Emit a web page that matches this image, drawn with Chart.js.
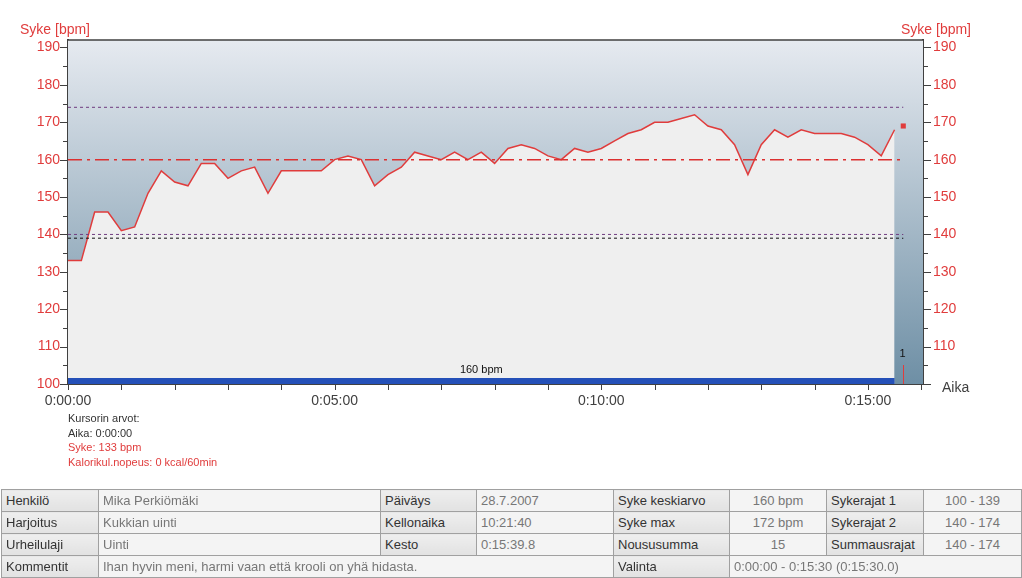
<!DOCTYPE html>
<html>
<head>
<meta charset="utf-8">
<title>Syke</title>
<script src="https://cdn.jsdelivr.net/npm/chart.js@4/dist/chart.umd.min.js"></script>
<style>
    body { margin: 0; background: #fff; font-family: 'Liberation Sans', Arial, sans-serif; }
    #wrap { position: relative; width: 1022px; height: 578px; overflow: hidden; }
    #hr-chart { position: absolute; left: 0; top: 0; }
    .cursor { position: absolute; left: 68px; top: 411px; font-size: 11px; line-height: 14.5px; color: #333; }
    .cursor .red { color: #e03c3c; }
    table.info { position: absolute; left: 1px; top: 489px; width: 1020px; border-collapse: collapse; table-layout: fixed; font-size: 13px; }
    table.info tr { height: 22px; }
    table.info td { border: 1px solid #a0a0a0; padding: 0 4px; white-space: nowrap; overflow: hidden; line-height: 14px; }
    td.lbl { background: linear-gradient( #eeeeee, #e2e2e2 ); color: #333; }
    td.val { background: #f4f4f4; color: #777; }
    td.c { text-align: center; }
</style>
</head>
<body>
<div id="wrap">
    <canvas id="hr-chart" width="1022" height="488"></canvas>
    <div class="cursor">
        <div>Kursorin arvot:</div>
        <div>Aika: 0:00:00</div>
        <div class="red">Syke: 133 bpm</div>
        <div class="red">Kalorikul.nopeus: 0 kcal/60min</div>
    </div>
    <table class="info">
        <colgroup>
            <col style="width:97px"><col style="width:282px"><col style="width:96px"><col style="width:137px">
            <col style="width:116px"><col style="width:97px"><col style="width:97px"><col style="width:98px">
        </colgroup>
        <tr><td class="lbl">Henkilö</td><td class="val">Mika Perkiömäki</td><td class="lbl">Päiväys</td><td class="val">28.7.2007</td>
            <td class="lbl">Syke keskiarvo</td><td class="val c">160 bpm</td><td class="lbl">Sykerajat 1</td><td class="val c">100 - 139</td></tr>
        <tr><td class="lbl">Harjoitus</td><td class="val">Kukkian uinti</td><td class="lbl">Kellonaika</td><td class="val">10:21:40</td>
            <td class="lbl">Syke max</td><td class="val c">172 bpm</td><td class="lbl">Sykerajat 2</td><td class="val c">140 - 174</td></tr>
        <tr><td class="lbl">Urheilulaji</td><td class="val">Uinti</td><td class="lbl">Kesto</td><td class="val">0:15:39.8</td>
            <td class="lbl">Noususumma</td><td class="val c">15</td><td class="lbl">Summausrajat</td><td class="val c">140 - 174</td></tr>
        <tr><td class="lbl">Kommentit</td><td class="val" colspan="3">Ihan hyvin meni, harmi vaan että krooli on yhä hidasta.</td>
            <td class="lbl">Valinta</td><td class="val" colspan="3">0:00:00 - 0:15:30 (0:15:30.0)</td></tr>
    </table>
</div>
<script>
// syke 15 s välein, aika sekunteina
const sampleTimes = [
    0, 15, 30, 45, 60, 75, 90, 105, 120, 135, 150, 165, 180, 195, 210, 225,
    240, 255, 270, 285, 300, 315, 330, 345, 360, 375, 390, 405, 420, 435, 450, 465,
    480, 495, 510, 525, 540, 555, 570, 585, 600, 615, 630, 645, 660, 675, 690, 705,
    720, 735, 750, 765, 780, 795, 810, 825, 840, 855, 870, 885, 900, 915, 930
];
const heartRates = [
    133, 133, 146, 146, 141, 142, 151, 157, 154, 153, 159, 159, 155, 157, 158, 151,
    157, 157, 157, 157, 160, 161, 160, 153, 156, 158, 162, 161, 160, 162, 160, 162,
    159, 163, 164, 163, 161, 160, 163, 162, 163, 165, 167, 168, 170, 170, 171, 172,
    169, 168, 164, 156, 164, 168, 166, 168, 167, 167, 167, 166, 164, 161, 168
];

const hrTickValues    = [ 100, 105, 110, 115, 120, 125, 130, 135, 140, 145, 150, 155, 160, 165, 170, 175, 180, 185, 190 ];
const hrLabelValues   = [ 100, 110, 120, 130, 140, 150, 160, 170, 180, 190 ];
const hrLabelsRight   = [ 110, 120, 130, 140, 150, 160, 170, 180, 190 ];
const timeTickValues  = [ 0, 60, 120, 180, 240, 300, 360, 420, 480, 540, 600, 660, 720, 780, 840, 900, 960 ];
const timeLabelTicks  = [ 0, 300, 600, 900 ];
const timeLabels      = [ '0:00:00', '0:05:00', '0:10:00', '0:15:00' ];

const hrAverage      = 160;
const zone1Upper     = 139;
const zone2Limits    = [ 140, 174 ];
const exerciseLength = 939.8;
const lapTimes       = [ 939.8 ];
const lapLabels      = [ '1' ];
const endMarkerHr    = 169;
const averageLabel   = '160 bpm';

let hrChart = {
    variables : {
        lineRed   : '#e03c3c',
        axisColor : '#404040',
        purple    : '#703c80'
    },
    functions : {
        limitLine : ( value, color, dash ) => {
            return {
                data: [ { x: 0, y: value }, { x: exerciseLength, y: value } ],
                borderColor: color,
                borderWidth: 1,
                borderDash: dash,
                pointRadius: 0,
                fill: false,
                order: 2
            };
        },
        fixWidth : ( width ) => ( axis ) => { axis.width = width; }
    }
};

let decorPlugin = {
    id : 'hrDecor',
    beforeDatasetsDraw : ( chart ) => {
        let ctx  = chart.ctx;
        let area = chart.chartArea;
        let grad = ctx.createLinearGradient( 0, area.top, 0, area.bottom );
        grad.addColorStop( 0, '#e6eaf0' );
        grad.addColorStop( 1, '#6e8fa5' );
        ctx.save();
        ctx.fillStyle = grad;
        ctx.fillRect( area.left, area.top, area.right - area.left, area.bottom - area.top );
        ctx.restore();
    },
    afterDatasetsDraw : ( chart ) => {
        let ctx  = chart.ctx;
        let area = chart.chartArea;
        let xs   = chart.scales.x;
        ctx.save();
        // keskisykepalkki
        let x0 = xs.getPixelForValue( sampleTimes[ 0 ] );
        let x1 = xs.getPixelForValue( sampleTimes[ sampleTimes.length - 1 ] );
        ctx.fillStyle = '#2450b8';
        ctx.fillRect( x0, area.bottom - 6, x1 - x0, 6 );
        ctx.fillStyle = '#111';
        ctx.font = '11px "Liberation Sans", Arial, sans-serif';
        ctx.textAlign = 'center';
        ctx.textBaseline = 'middle';
        ctx.fillText( averageLabel, ( x0 + x1 ) / 2, area.bottom - 14 );
        // kierrokset
        lapTimes.forEach( ( t, i ) => {
            let lx = Math.round( xs.getPixelForValue( t ) ) + 0.5;
            ctx.strokeStyle = hrChart.variables.lineRed;
            ctx.lineWidth = 1;
            ctx.beginPath();
            ctx.moveTo( lx, area.bottom - 19 );
            ctx.lineTo( lx, area.bottom );
            ctx.stroke();
            ctx.fillStyle = '#111';
            ctx.fillText( lapLabels[ i ], lx - 1, area.bottom - 30 );
        } );
        ctx.restore();
    },
    afterDraw : ( chart ) => {
        let ctx  = chart.ctx;
        let area = chart.chartArea;
        ctx.save();
        ctx.strokeStyle = hrChart.variables.axisColor;
        ctx.lineWidth = 1.5;
        ctx.beginPath();
        ctx.moveTo( area.left, area.top );
        ctx.lineTo( area.right, area.top );
        ctx.stroke();

        ctx.lineWidth = 1;
        chart.scales.y.ticks.forEach( ( tick ) => {
            let y   = Math.round( chart.scales.y.getPixelForValue( tick.value ) ) + 0.5;
            let len = hrLabelValues.includes( tick.value ) ? 7 : 4;
            ctx.beginPath();
            ctx.moveTo( area.left - 1 - len, y );
            ctx.lineTo( area.left, y );
            ctx.moveTo( area.right, y );
            ctx.lineTo( area.right + 1 + len, y );
            ctx.stroke();
        } );
        chart.scales.x.ticks.forEach( ( tick ) => {
            let x = Math.round( chart.scales.x.getPixelForValue( tick.value ) ) + 0.5;
            ctx.beginPath();
            ctx.moveTo( x, area.bottom );
            ctx.lineTo( x, area.bottom + 6 );
            ctx.stroke();
        } );

        ctx.font = '14px "Liberation Sans", Arial, sans-serif';
        ctx.textBaseline = 'middle';
        ctx.textAlign = 'center';
        ctx.fillStyle = hrChart.variables.lineRed;
        ctx.fillText( 'Syke [bpm]', area.left - 13, area.top - 10 );
        ctx.fillText( 'Syke [bpm]', area.right + 13, area.top - 10 );
        ctx.textAlign = 'left';
        ctx.fillStyle = hrChart.variables.axisColor;
        ctx.fillText( 'Aika', area.right + 19, area.bottom + 4 );
        ctx.restore();
    }
};

Chart.defaults.font.family = '"Liberation Sans", Arial, sans-serif';
Chart.defaults.font.size   = 14;

let hrPoints = sampleTimes.map( ( t, i ) => ( { x: t, y: heartRates[ i ] } ) );

let ctx = document.getElementById( 'hr-chart' ).getContext( '2d' );
let chart = new Chart( ctx, {
    type: 'line',
    data: {
        datasets: [
            {
                label: 'Syke',
                data: hrPoints,
                borderColor: hrChart.variables.lineRed,
                borderWidth: 1.5,
                backgroundColor: '#efefef',
                fill: 'start',
                pointRadius: 0,
                tension: 0,
                order: 5
            },
            hrChart.functions.limitLine( zone2Limits[ 1 ], hrChart.variables.purple, [ 3, 3 ] ),
            hrChart.functions.limitLine( zone2Limits[ 0 ], hrChart.variables.purple, [ 3, 3 ] ),
            hrChart.functions.limitLine( zone1Upper, '#111', [ 3, 3 ] ),
            Object.assign( hrChart.functions.limitLine( hrAverage, '#dc3030', [ 14, 5, 3, 5 ] ), { borderWidth: 1.5 } ),
            {
                label: 'loppu',
                data: [ { x: exerciseLength, y: endMarkerHr } ],
                showLine: false,
                pointStyle: 'rect',
                pointRadius: 3.6,
                pointBackgroundColor: hrChart.variables.lineRed,
                pointBorderWidth: 0,
                order: 0
            }
        ]
    },
    options: {
        responsive: false,
        animation: false,
        layout: { padding: { top: 40, left: 0, right: 0, bottom: 0 } },
        plugins: { legend: { display: false }, tooltip: { enabled: false } },
        scales: {
            x: {
                type: 'linear',
                min: 0,
                max: 962,
                afterFit: ( axis ) => { axis.height = 104; },
                afterBuildTicks: ( axis ) => { axis.ticks = timeTickValues.map( ( v ) => ( { value: v } ) ); },
                grid: { display: false, drawTicks: false },
                border: { display: true, color: hrChart.variables.axisColor, width: 2 },
                ticks: {
                    autoSkip: false,
                    maxRotation: 0,
                    padding: 9,
                    color: hrChart.variables.axisColor,
                    callback: ( value ) => {
                        let i = timeLabelTicks.indexOf( value );
                        return i >= 0 ? timeLabels[ i ] : '';
                    }
                }
            },
            y: {
                position: 'left',
                min: 100,
                max: 192,
                afterFit: hrChart.functions.fixWidth( 68 ),
                afterBuildTicks: ( axis ) => { axis.ticks = hrTickValues.map( ( v ) => ( { value: v } ) ); },
                grid: { display: false, drawTicks: false },
                border: { display: true, color: hrChart.variables.axisColor, width: 2 },
                ticks: {
                    autoSkip: false,
                    padding: 8,
                    color: hrChart.variables.lineRed,
                    callback: ( value ) => hrLabelValues.includes( value ) ? String( value ) : ''
                }
            },
            y2: {
                position: 'right',
                min: 100,
                max: 192,
                afterFit: hrChart.functions.fixWidth( 99 ),
                afterBuildTicks: ( axis ) => { axis.ticks = hrTickValues.map( ( v ) => ( { value: v } ) ); },
                grid: { display: false, drawTicks: false },
                border: { display: true, color: hrChart.variables.axisColor, width: 2 },
                ticks: {
                    autoSkip: false,
                    padding: 10,
                    color: hrChart.variables.lineRed,
                    callback: ( value ) => hrLabelsRight.includes( value ) ? String( value ) : ''
                }
            }
        }
    },
    plugins: [ decorPlugin ]
} );
</script>
</body>
</html>
